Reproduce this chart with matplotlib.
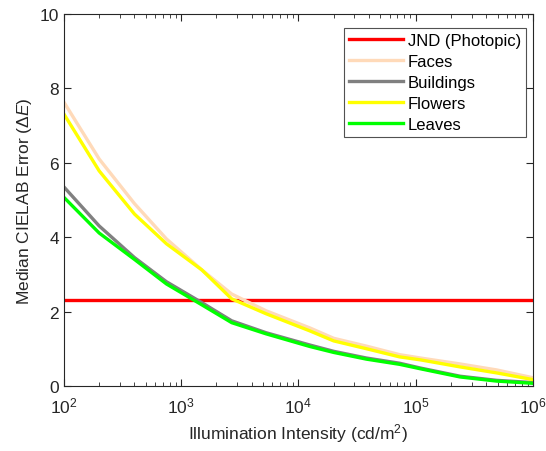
import matplotlib
matplotlib.use("Agg")
import matplotlib.pyplot as plt
from matplotlib.ticker import LogLocator, NullFormatter

plt.rcParams['font.family'] = ['Liberation Sans', 'DejaVu Sans']
plt.rcParams['mathtext.fontset'] = 'custom'
plt.rcParams['mathtext.rm'] = 'Liberation Sans'
plt.rcParams['mathtext.it'] = 'Liberation Sans:italic'

# illumination levels (cd/m^2)
lum = [100, 200, 400, 750, 1500, 2700, 5300, 12500, 20000, 38000,
       73000, 110000, 240000, 490000, 1000000]
jnd = 2.3
faces = [7.63, 6.10, 4.90, 3.95, 3.12, 2.47, 2.02, 1.56, 1.28, 1.07,
         0.84, 0.75, 0.59, 0.43, 0.22]
buildings = [5.35, 4.30, 3.45, 2.80, 2.24, 1.75, 1.43, 1.10, 0.93, 0.75,
             0.61, 0.48, 0.26, 0.15, 0.09]
flowers = [7.31, 5.78, 4.62, 3.82, 3.12, 2.34, 1.94, 1.48, 1.21, 1.00,
           0.78, 0.70, 0.51, 0.35, 0.17]
leaves = [5.07, 4.11, 3.40, 2.74, 2.18, 1.70, 1.40, 1.06, 0.90, 0.72,
          0.58, 0.46, 0.24, 0.13, 0.07]

fig = plt.figure(figsize=(5.46, 4.52), dpi=100)
ax = fig.add_axes([0.117, 0.144, 0.859, 0.823])

lw = 2.4
ax.plot([lum[0], lum[-1]], [jnd, jnd], color=(1, 0, 0), lw=lw, label='JND (Photopic)')
ax.plot(lum, faces, color='#FFDAB9', lw=lw, label='Faces')
ax.plot(lum, buildings, color=(0.5, 0.5, 0.5), lw=lw, label='Buildings')
ax.plot(lum, flowers, color=(1, 1, 0), lw=lw, label='Flowers')
ax.plot(lum, leaves, color=(0, 1, 0), lw=lw, label='Leaves')

ax.set_xscale('log')
ax.set_xlim(1e2, 1e6)
ax.set_ylim(0, 10)
ax.set_yticks([0, 2, 4, 6, 8, 10])
ax.xaxis.set_major_locator(LogLocator(base=10, numticks=10))
ax.xaxis.set_minor_locator(LogLocator(base=10, subs=range(2, 10), numticks=10))
ax.xaxis.set_minor_formatter(NullFormatter())

dark = (0.15, 0.15, 0.15)
for s in ax.spines.values():
    s.set_color(dark)
    s.set_linewidth(0.8)
ax.tick_params(which='both', direction='in', top=True, right=True,
               colors=dark, labelsize=12.5)
ax.tick_params(which='major', length=5)
ax.tick_params(which='minor', length=3)
ax.tick_params(axis='x', pad=7)

ax.set_xlabel('Illumination Intensity (cd/m$^2$)', fontsize=12.5, color=dark)
ax.set_ylabel('Median CIELAB Error ($\\Delta E$)', fontsize=12.5, color=dark)

leg = ax.legend(loc='upper right', bbox_to_anchor=(0.985, 0.962), fontsize=12,
                frameon=True, fancybox=False, edgecolor=dark,
                handlelength=3.2, borderpad=0.3, labelspacing=0.36,
                handletextpad=0.3, borderaxespad=0.0)
leg.get_frame().set_linewidth(0.8)

fig.savefig('out.png', dpi=100)
